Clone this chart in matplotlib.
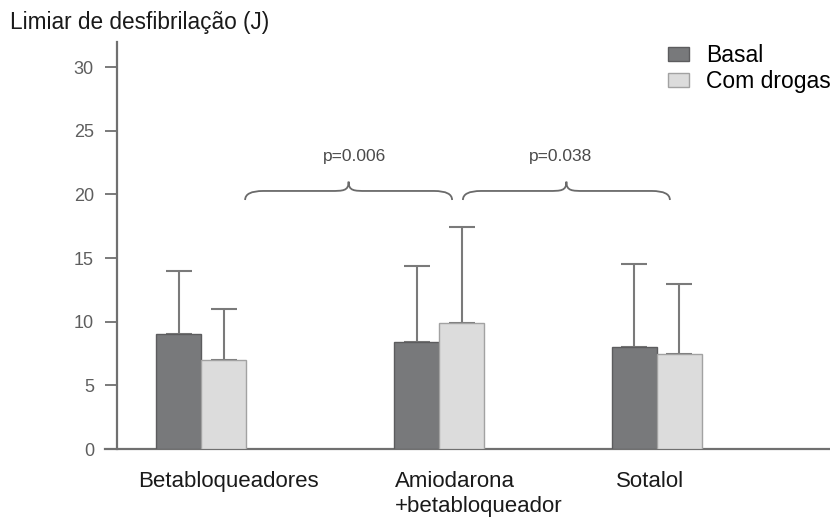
import matplotlib
matplotlib.use("Agg")
import matplotlib.pyplot as plt
from matplotlib.path import Path
from matplotlib.patches import PathPatch, Patch

# ---- data ----
categories = ["Betabloqueadores", "Amiodarona\n+betabloqueador", "Sotalol"]
series_names = ["Basal", "Com drogas"]
basal_mean = [9.0, 8.4, 8.0]
basal_sd = [5.0, 6.0, 6.5]
drogas_mean = [7.0, 9.9, 7.5]
drogas_sd = [4.0, 7.5, 5.5]
yticks = [0, 5, 10, 15, 20, 25, 30]
p_labels = ["p=0.006", "p=0.038"]
y_label = "Limiar de desfibrilação (J)"

# ---- layout ----
W, H, DPI = 830, 517, 100
group_pos = [0.0, 5.29, 10.13]      # group centres (bar-width units)
bar_w = 1.0
label_x = [0.6, 4.31, 9.98]
label_ha = ["center", "left", "center"]
brace_spans = [(0.98, 5.58), (5.82, 10.42)]
brace_y = (19.56, 20.27, 21.0)
p_x = [3.42, 7.98]
p_y = 23.0

c_basal, e_basal = "#78797b", "#5c5c5e"
c_drog, e_drog = "#dcdcdc", "#a2a2a2"
axis_col = "#707070"
err_col = "#7a7a7a"

plt.rcParams["font.family"] = ["Liberation Sans", "DejaVu Sans"]

fig = plt.figure(figsize=(W / DPI, H / DPI), dpi=DPI)
ax_left, ax_right = 105 / W, 1.0
ax_bottom, ax_top = (H - 449) / H, (H - 42) / H
ax = fig.add_axes([ax_left, ax_bottom, ax_right - ax_left, ax_top - ax_bottom])

x_b = [p - bar_w / 2 for p in group_pos]
x_d = [p + bar_w / 2 for p in group_pos]

ax.bar(x_b, basal_mean, width=bar_w, color=c_basal, edgecolor=e_basal, linewidth=1.0, zorder=3)
ax.bar(x_d, drogas_mean, width=bar_w, color=c_drog, edgecolor=e_drog, linewidth=1.0, zorder=3)

for xs, m, s in [(x_b, basal_mean, basal_sd), (x_d, drogas_mean, drogas_sd)]:
    ax.errorbar(xs, m, yerr=[[0] * len(s), s], fmt="none", ecolor=err_col,
                elinewidth=1.5, capsize=9.7, capthick=1.5, zorder=2)

# x range in bar-width units (45 px each)
px_per_unit = 45.0
ax.set_xlim((105 - 201) / px_per_unit, (830 - 201) / px_per_unit)
ax.set_ylim(0, (449 - 42) / 12.73)

for sp in ["top", "right"]:
    ax.spines[sp].set_visible(False)
ax.spines["left"].set_position(("axes", (117 - 105) / (830 - 105)))
for sp in ["left", "bottom"]:
    ax.spines[sp].set_color(axis_col)
    ax.spines[sp].set_linewidth(1.6)

ax.set_yticks(yticks)
ax.tick_params(axis="y", direction="out", length=8.6, width=1.3, color=axis_col,
               labelcolor="#5e5e5e", labelsize=13, pad=8)
ax.set_xticks([])

for lx, lab, ha in zip(label_x, categories, label_ha):
    ax.text(lx, -0.055, lab, transform=ax.get_xaxis_transform(), ha=ha, va="top",
            fontsize=16, color="#1a1a1a", linespacing=1.2)

# braces
def brace(x0, x1, y_end, y_flat, y_tip, d=0.4):
    xm = (x0 + x1) / 2
    verts = [
        (x0, y_end), (x0, y_flat), (x0 + d, y_flat),
        (xm - d, y_flat),
        (xm - d * 0.3, y_flat), (xm, y_flat), (xm, y_tip),
        (xm, y_flat), (xm + d * 0.3, y_flat), (xm + d, y_flat),
        (x1 - d, y_flat),
        (x1, y_flat), (x1, y_end),
    ]
    codes = [Path.MOVETO, Path.CURVE3, Path.CURVE3,
             Path.LINETO,
             Path.CURVE4, Path.CURVE4, Path.CURVE4,
             Path.CURVE4, Path.CURVE4, Path.CURVE4,
             Path.LINETO,
             Path.CURVE3, Path.CURVE3]
    return PathPatch(Path(verts, codes), fill=False, edgecolor="#6a6a6a", linewidth=1.3, zorder=4)

for (x0, x1) in brace_spans:
    ax.add_patch(brace(x0, x1, *brace_y))

for px_, pl in zip(p_x, p_labels):
    ax.text(px_, p_y, pl, ha="center", va="center", fontsize=12.5, color="#4a4a4a")

# legend
handles = [Patch(facecolor=c_basal, edgecolor=e_basal, linewidth=1.0),
           Patch(facecolor=c_drog, edgecolor=e_drog, linewidth=1.0)]
fig.legend(handles, series_names, loc="upper left", bbox_to_anchor=(668 / W, 1 - 44 / H),
           frameon=False, fontsize=16.5, handlelength=0.9, handleheight=0.55,
           handletextpad=0.75, labelspacing=0.15, borderpad=0, borderaxespad=0)

fig.text(10 / W, 1 - 23 / H, y_label, ha="left", va="center", fontsize=16.3, color="#1a1a1a")

fig.savefig("out.png", dpi=DPI)
